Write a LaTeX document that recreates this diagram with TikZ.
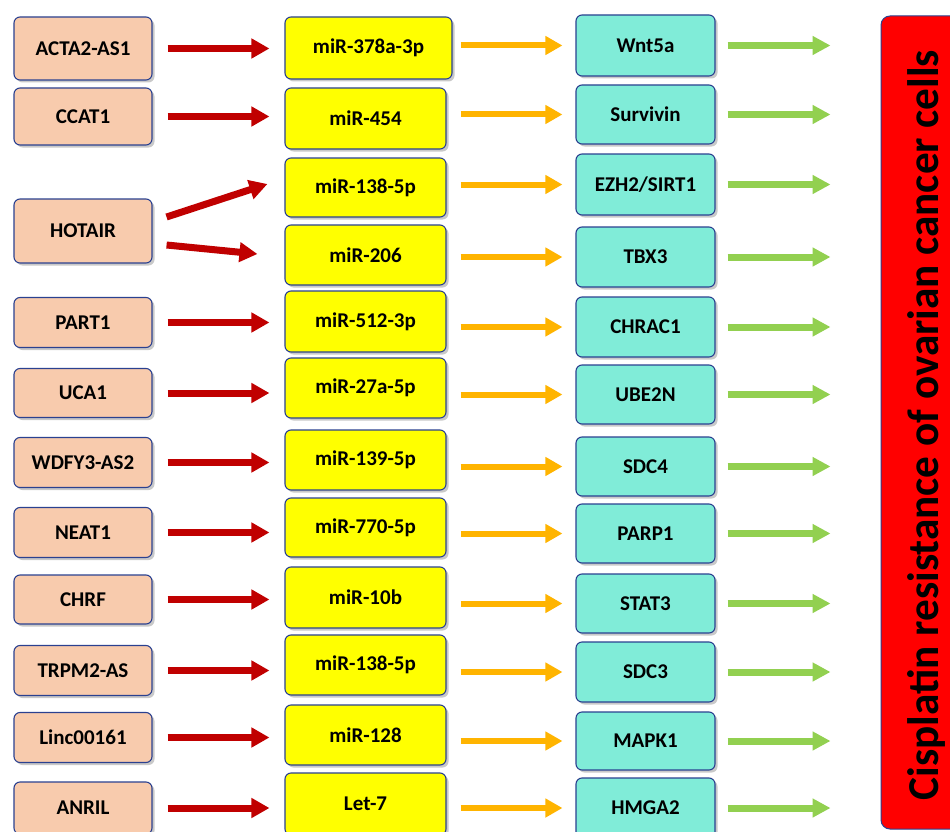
\documentclass[tikz,border=0pt]{standalone}
\usepackage{fontspec}
\setmainfont{Carlito}
\usetikzlibrary{arrows.meta,shadows,calc}
\definecolor{peach}{HTML}{F8CBAD}
\definecolor{yel}{HTML}{FFFF00}
\definecolor{aqua}{HTML}{80ECD8}
\definecolor{bord}{HTML}{2B4190}
\definecolor{resred}{HTML}{FF0000}
\definecolor{arrred}{HTML}{C00000}
\definecolor{arrorange}{HTML}{FFB400}
\definecolor{arrgreen}{HTML}{92D050}
\tikzset{
  bx/.style={draw=bord, line width=1.1pt, rounded corners=6pt, inner sep=0pt,
    font=\bfseries\fontsize{21}{23}\selectfont, text=black,
    drop shadow={shadow xshift=2.5pt, shadow yshift=-2.5pt, opacity=0.35, fill=black!60}},
  lbox/.style={bx, fill=peach, minimum width=138pt},
  mbox/.style={bx, fill=yel, minimum width=161pt},
  rbox/.style={bx, fill=aqua, minimum width=139pt},
  rarr/.style={draw=arrred, line width=7pt, -{Triangle[length=18pt,width=19pt]}},
  oarr/.style={draw=arrorange, line width=6pt, -{Triangle[length=17pt,width=18pt]}},
  garr/.style={draw=arrgreen, line width=7pt, -{Triangle[length=18pt,width=18pt]}},
}
\begin{document}
\begin{tikzpicture}[x=1pt,y=-1pt]
\useasboundingbox[fill=white] (0,0) rectangle (950,832);
% left column
\node[lbox, minimum height=63pt] (l1) at (83,48.5) {ACTA2-AS1};
\node[lbox, minimum height=57pt] (l2) at (83,116.5) {CCAT1};
\node[lbox, minimum height=64pt] (l3) at (83,231) {HOTAIR};
\node[lbox, minimum height=50pt] (l4) at (83,322.5) {PART1};
\node[lbox, minimum height=49pt] (l5) at (83,393) {UCA1};
\node[lbox, minimum height=50pt] (l6) at (83,462.5) {WDFY3-AS2};
\node[lbox, minimum height=50pt] (l7) at (83,532.5) {NEAT1};
\node[lbox, minimum height=49pt] (l8) at (83,599.5) {CHRF};
\node[lbox, minimum height=50pt] (l9) at (83,670.5) {TRPM2-AS};
\node[lbox, minimum height=50pt] (l10) at (83,737.5) {Linc00161};
\node[lbox, minimum height=52pt] (l11) at (83,808) {ANRIL};
% middle column
\node[mbox, minimum width=167pt, minimum height=62pt] (m1) at (368.5,48) {miR-378a-3p};
\node[mbox, minimum height=61pt] (m2) at (365.5,118.5) {miR-454};
\node[mbox, minimum height=59pt] (m3) at (365.5,187.5) {miR-138-5p};
\node[mbox, minimum height=60pt] (m4) at (365.5,255) {miR-206};
\node[mbox, minimum height=61pt] (m5) at (365.5,321.5) {miR-512-3p};
\node[mbox, minimum height=60pt] (m6) at (365.5,388) {miR-27a-5p};
\node[mbox, minimum height=60pt] (m7) at (365.5,460) {miR-139-5p};
\node[mbox, minimum height=59pt] (m8) at (365.5,527.5) {miR-770-5p};
\node[mbox, minimum height=61pt] (m9) at (365.5,597.5) {miR-10b};
\node[mbox, minimum height=60pt] (m10) at (365.5,665) {miR-138-5p};
\node[mbox, minimum height=60pt] (m11) at (365.5,735) {miR-128};
\node[mbox, minimum height=62pt] (m12) at (365.5,804) {Let-7};
% right column
\node[rbox, minimum height=61pt] (r1) at (645.5,45.5) {Wnt5a};
\node[rbox, minimum height=59pt] (r2) at (645.5,114.5) {Survivin};
\node[rbox, minimum height=61pt] (r3) at (645.5,184.5) {EZH2/SIRT1};
\node[rbox, minimum height=60pt] (r4) at (645.5,257) {TBX3};
\node[rbox, minimum height=60pt] (r5) at (645.5,327) {CHRAC1};
\node[rbox, minimum height=59pt] (r6) at (645.5,394.5) {UBE2N};
\node[rbox, minimum height=59pt] (r7) at (645.5,466.5) {SDC4};
\node[rbox, minimum height=59pt] (r8) at (645.5,533.5) {PARP1};
\node[rbox, minimum height=59pt] (r9) at (645.5,603.5) {STAT3};
\node[rbox, minimum height=60pt] (r10) at (645.5,672) {SDC3};
\node[rbox, minimum height=58pt] (r11) at (645.5,741) {MAPK1};
\node[rbox, minimum height=60pt] (r12) at (645.5,808) {HMGA2};
% result box
\node[draw=bord, line width=1pt, fill=resred, rounded corners=9pt, minimum width=84pt, minimum height=813pt, inner sep=0pt] (res) at (923,422.5) {};
\node[rotate=90, anchor=base, inner sep=0pt] (restext) at (938,425)
  {\resizebox{750pt}{31pt}{\bfseries Cisplatin resistance of ovarian cancer cells}};
% red arrows
\foreach \a/\b in {l1/m1,l2/m2,l4/m5,l5/m6,l6/m7,l7/m8,l8/m9,l9/m10,l10/m11,l11/m12}
  \draw[rarr, shorten <=15pt, shorten >=15pt] (\a.east) -- (\a.east -| \b.west);
\draw[rarr] ($(l3.east)+(14,-14)$) -- ($(m3.west)+(-17,-3.5)$);
\draw[rarr] ($(l3.east)+(14,14)$) -- ($(m4.west)+(-27,-1)$);
% orange arrows
\draw[oarr, shorten <=8pt, shorten >=13pt] (m1.east |- r1.west) -- (r1.west);
\foreach \a/\b in {m2/r2,m3/r3,m4/r4,m5/r5,m6/r6,m7/r7,m8/r8,m9/r9,m10/r10,m11/r11,m12/r12}
  \draw[oarr, shorten <=14pt, shorten >=13pt] (\a.east |- \b.west) -- (\b.west);
% green arrows
\foreach \a in {r1,r2,r3,r4,r5,r6,r7,r8,r9,r10,r11,r12}
  \draw[garr, shorten <=12pt, shorten >=50pt] (\a.east) -- (\a.east -| res.west);
\end{tikzpicture}
\end{document}
